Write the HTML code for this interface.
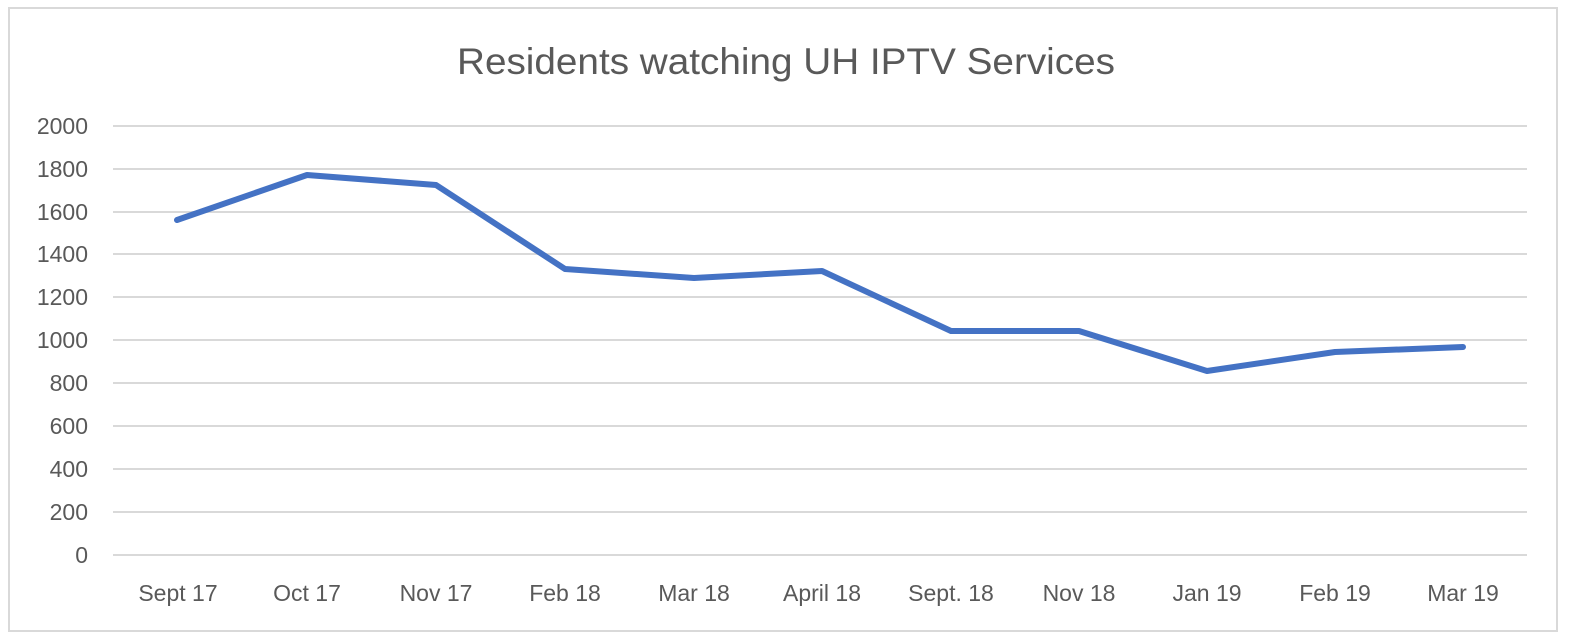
<!DOCTYPE html>
<html><head><style>body{margin:0;background:#fff}svg{display:block}</style></head><body>
<svg width="1575" height="638" xmlns="http://www.w3.org/2000/svg" font-family="Liberation Sans, sans-serif">
<rect x="9" y="8" width="1548" height="623" fill="#fff" stroke="#d9d9d9" stroke-width="2"/>
<text x="786" y="74" text-anchor="middle" font-size="37" fill="#595959" textLength="658" lengthAdjust="spacingAndGlyphs">Residents watching UH IPTV Services</text>
<g stroke="#d9d9d9" stroke-width="2">
<line x1="113" x2="1527" y1="126" y2="126"/><line x1="113" x2="1527" y1="169" y2="169"/>
<line x1="113" x2="1527" y1="212" y2="212"/><line x1="113" x2="1527" y1="254" y2="254"/>
<line x1="113" x2="1527" y1="297" y2="297"/><line x1="113" x2="1527" y1="340" y2="340"/>
<line x1="113" x2="1527" y1="383" y2="383"/><line x1="113" x2="1527" y1="426" y2="426"/>
<line x1="113" x2="1527" y1="469" y2="469"/><line x1="113" x2="1527" y1="512" y2="512"/>
<line x1="113" x2="1527" y1="555" y2="555"/></g>
<g font-size="23" fill="#595959" text-anchor="end">
<text x="88" y="134">2000</text><text x="88" y="177">1800</text><text x="88" y="220">1600</text>
<text x="88" y="262">1400</text><text x="88" y="305">1200</text><text x="88" y="348">1000</text>
<text x="88" y="391">800</text><text x="88" y="434">600</text><text x="88" y="477">400</text>
<text x="88" y="520">200</text><text x="88" y="563">0</text></g>
<g font-size="23" fill="#595959" text-anchor="middle">
<text x="178" y="601">Sept 17</text><text x="307" y="601">Oct 17</text><text x="436" y="601">Nov 17</text>
<text x="565" y="601">Feb 18</text><text x="694" y="601">Mar 18</text><text x="822" y="601">April 18</text>
<text x="951" y="601">Sept. 18</text><text x="1079" y="601">Nov 18</text><text x="1207" y="601">Jan 19</text>
<text x="1335" y="601">Feb 19</text><text x="1463" y="601">Mar 19</text></g>
<polyline fill="none" stroke="#4472c4" stroke-width="6" stroke-linejoin="round" stroke-linecap="round"
points="177,220 307,175 436,185 565,269 694,278 822,271 951,331 1079,331 1207,371 1335,352 1463,347"/>
</svg>
</body></html>
